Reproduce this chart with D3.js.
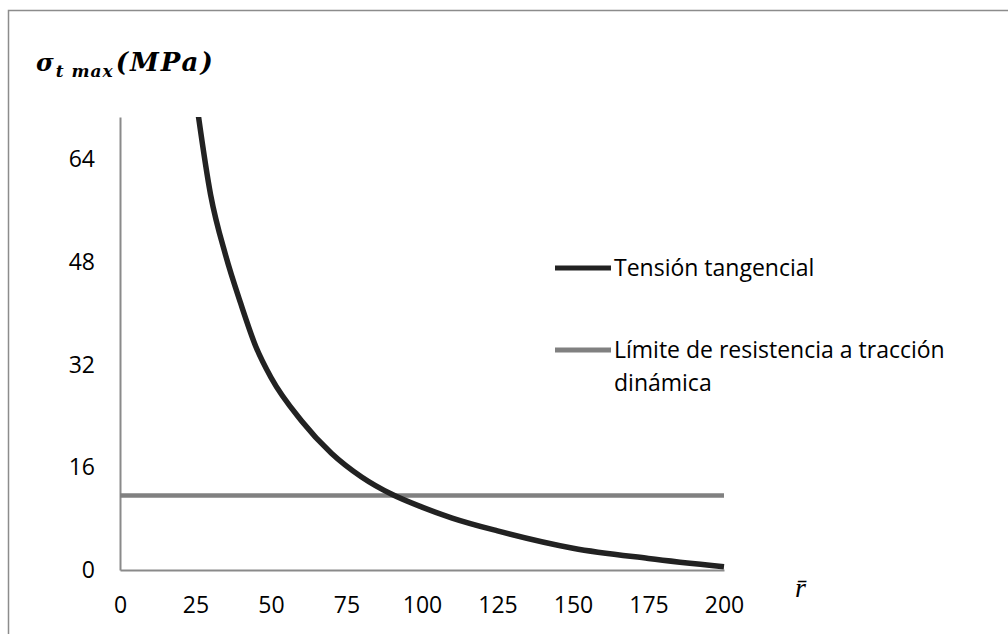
<!DOCTYPE html>
<html><head><meta charset="utf-8">
<script src="https://cdn.jsdelivr.net/npm/d3@7"></script>
<style>body{margin:0;background:#fff}svg{display:block}</style>
</head><body>
<script>
const rValues   = [25, 30, 35, 40, 45, 50, 60, 70, 80, 90, 100, 110, 125, 150, 175, 200];
const tension   = [74, 58.5, 49, 41.5, 34.8, 30, 23.3, 18.2, 14.5, 11.8, 9.8, 8.1, 6.1, 3.4, 1.8, 0.5];
const limitValue = 11.6;
const xTicks = [0, 25, 50, 75, 100, 125, 150, 175, 200];
const yTicks = [0, 16, 32, 48, 64];
const seriesNames = ["Tensión tangencial", "Límite de resistencia a tracción", "dinámica"];

const W = 1008, H = 634;
const svg = d3.select("body").append("svg").attr("width", W).attr("height", H);

// outer border
svg.append("rect").attr("x", 8.5).attr("y", 10.5).attr("width", 1100).attr("height", 700)
  .attr("fill", "none").attr("stroke", "#8c8c8c").attr("stroke-width", 1.5);

const x = d3.scaleLinear().domain([0, 200]).range([120, 724]);
const y = d3.scaleLinear().domain([0, 70.6]).range([570, 117]);

const font = "'Open Sans', sans-serif";

// axes
const gx = svg.append("g").attr("transform", `translate(0,${y(0)})`)
  .call(d3.axisBottom(x).tickValues(xTicks).tickSize(0).tickPadding(27).tickFormat(d3.format("d")));
const gy = svg.append("g").attr("transform", `translate(${x(0)},0)`)
  .call(d3.axisLeft(y).tickValues(yTicks).tickSize(0).tickPadding(25).tickFormat(d3.format("d")));
[gx, gy].forEach(g => {
  g.select(".domain").attr("stroke", "#8a8a8a").attr("stroke-width", 2);
  g.selectAll("text").attr("font-family", font).attr("font-size", 23).attr("fill", "#000");
});

svg.append("defs").append("clipPath").attr("id", "clip")
  .append("rect").attr("x", x(0)).attr("y", y.range()[1]).attr("width", x(200) - x(0) + 5).attr("height", y(0) - y.range()[1] + 5);

// limit line
svg.append("line").attr("x1", x(0)).attr("x2", x(200)).attr("y1", y(limitValue)).attr("y2", y(limitValue))
  .attr("stroke", "#808080").attr("stroke-width", 4.5);

// tension curve
const pts = rValues.map((r, i) => [r, tension[i]]);
svg.append("path").datum(pts).attr("clip-path", "url(#clip)")
  .attr("d", d3.line().x(d => x(d[0])).y(d => y(d[1])).curve(d3.curveMonotoneX))
  .attr("fill", "none").attr("stroke", "#222").attr("stroke-width", 5.5);

// legend
const lg = svg.append("g");
lg.append("line").attr("x1", 555).attr("x2", 611).attr("y1", 268).attr("y2", 268).attr("stroke", "#222").attr("stroke-width", 5);
lg.append("text").attr("x", 614).attr("y", 268).attr("dy", "0.35em").text(seriesNames[0]);
lg.append("line").attr("x1", 555).attr("x2", 611).attr("y1", 350).attr("y2", 350).attr("stroke", "#808080").attr("stroke-width", 5);
lg.append("text").attr("x", 614).attr("y", 350).attr("dy", "0.35em").text(seriesNames[1]);
lg.append("text").attr("x", 614).attr("y", 383).attr("dy", "0.35em").text(seriesNames[2]);
lg.selectAll("text").attr("font-family", font).attr("font-size", 23).attr("fill", "#000");

// y title
const t = svg.append("text").attr("x", 36).attr("y", 71)
  .attr("font-family", "'DejaVu Serif', serif").attr("font-weight", "bold").attr("font-style", "italic").attr("fill", "#000");
t.append("tspan").attr("font-size", 24).text("σ");
t.append("tspan").attr("font-size", 17).attr("dy", 6).attr("dx", 2).attr("letter-spacing", 1).text("t max");
t.append("tspan").attr("font-size", 26).attr("dy", -6).attr("dx", 2).attr("letter-spacing", 2).text("(MPa)");

// x title
svg.append("text").attr("x", 795).attr("y", 597)
  .attr("font-family", "'Liberation Serif', serif").attr("font-style", "italic").attr("font-size", 28).attr("fill", "#000").text("r\u0304");
</script>
</body></html>
